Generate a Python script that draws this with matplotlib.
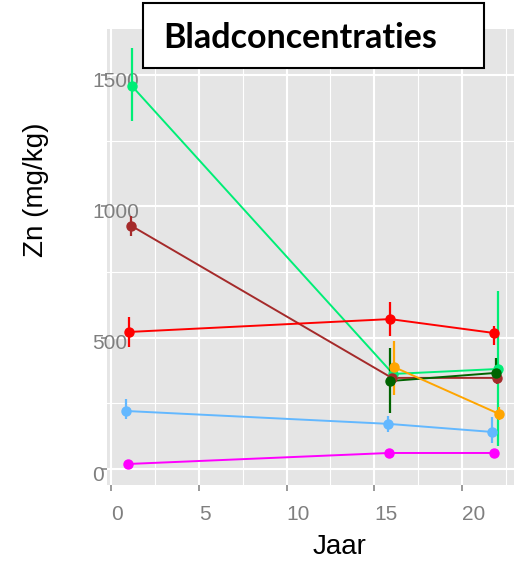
import matplotlib
matplotlib.use('Agg')
from matplotlib import pyplot as plt
import matplotlib.patches as patches
import matplotlib.transforms as mtransforms

# series: x (jaar), Zn, lower/upper error bar
colors = ['#00EE76', '#A52A2A', '#FF0000', '#006400', '#FFA500', '#63B8FF', '#FF00FF']

green_x = [1.2, 16.07, 22.07]
green_y = [1458, 362, 381]
green_lo = [1324, 340, 88]
green_hi = [1603, 385, 679]

brown_x = [1.14, 16.0, 21.98]
brown_y = [927, 347, 347]
brown_lo = [886, 330, 325]
brown_hi = [962, 365, 370]

red_x = [1.03, 15.9, 21.82]
red_y = [522, 571, 518]
red_lo = [465, 507, 472]
red_hi = [579, 636, 545]

dgreen_x = [15.9, 21.92]
dgreen_y = [335, 366]
dgreen_lo = [213, 328]
dgreen_hi = [461, 424]

orange_x = [16.1, 22.1]
orange_y = [389, 210]
orange_lo = [282, 185]
orange_hi = [489, 235]

blue_x = [0.84, 15.78, 21.73]
blue_y = [221, 172, 141]
blue_lo = [191, 141, 99]
blue_hi = [267, 202, 198]

magenta_x = [0.95, 15.84, 21.82]
magenta_y = [19, 61, 61]
magenta_lo = [10, 52, 52]
magenta_hi = [28, 70, 70]

series = [
    (green_x, green_y, green_lo, green_hi),
    (brown_x, brown_y, brown_lo, brown_hi),
    (red_x, red_y, red_lo, red_hi),
    (dgreen_x, dgreen_y, dgreen_lo, dgreen_hi),
    (orange_x, orange_y, orange_lo, orange_hi),
    (blue_x, blue_y, blue_lo, blue_hi),
    (magenta_x, magenta_y, magenta_lo, magenta_hi),
]

plt.rcParams['font.family'] = ['Liberation Sans', 'DejaVu Sans']
fig = plt.figure(figsize=(5.14, 5.62), dpi=100)
ax = fig.add_axes([107/514, 77/562, 407/514, 456/562])
ax.set_facecolor('#e5e5e5')
for s in ax.spines.values():
    s.set_visible(False)

for (xs, ys, lo, hi), c in zip(series, colors):
    ax.plot(xs, ys, '-', color=c, lw=1.4, zorder=3)
    ax.vlines(xs, lo, hi, color=c, lw=1.6, zorder=3)
    ax.plot(xs, ys, 'o', color=c, ms=6.5, zorder=4)

ax.set_xlim(-0.23, 22.96)
ax.set_ylim(-61, 1676)
ax.set_xticks([0, 5, 10, 15, 20])
ax.set_xticks([2.5, 7.5, 12.5, 17.5, 22.5], minor=True)
ax.set_yticks([0, 500, 1000, 1500])
ax.set_yticks([250, 750, 1250], minor=True)
ax.grid(which='major', color='white', lw=1.5, zorder=0)
ax.grid(which='minor', color='white', lw=0.8, zorder=0)
ax.set_axisbelow(True)

ax.tick_params(which='major', color='#7f7f7f', length=4.3, width=1.1,
               labelcolor='#7f7f7f', labelsize=15)
ax.tick_params(which='minor', length=0)
ax.tick_params(axis='y', pad=6.5)
ax.tick_params(axis='x', pad=10)
for lab in ax.get_yticklabels():
    lab.set_horizontalalignment('left')
    lab.set_transform(lab.get_transform() + mtransforms.ScaledTranslation(0, -3/72, fig.dpi_scale_trans))
for lab in ax.get_xticklabels():
    lab.set_horizontalalignment('left')

ax.set_xlabel('Jaar', fontsize=20, ha='left', va='baseline')
ax.xaxis.set_label_coords(206/407, -69/456)
ax.set_ylabel('Zn (mg/kg)', fontsize=20, rotation=90, rotation_mode='anchor',
              ha='left', va='baseline')
ax.yaxis.set_label_coords(-64/407, 0.5)

# title box
rect = patches.Rectangle((143/514, 494/562), 341/514, 65/562, transform=fig.transFigure,
                         facecolor='white', edgecolor='black', lw=1.5, zorder=10)
fig.patches.append(rect)
fig.text(163/514, 514/562, 'Bladconcentraties', fontsize=24.5, fontweight='bold',
         family=['Lato', 'DejaVu Sans'], ha='left', va='baseline', zorder=11)

fig.savefig('out.png', dpi=100)
